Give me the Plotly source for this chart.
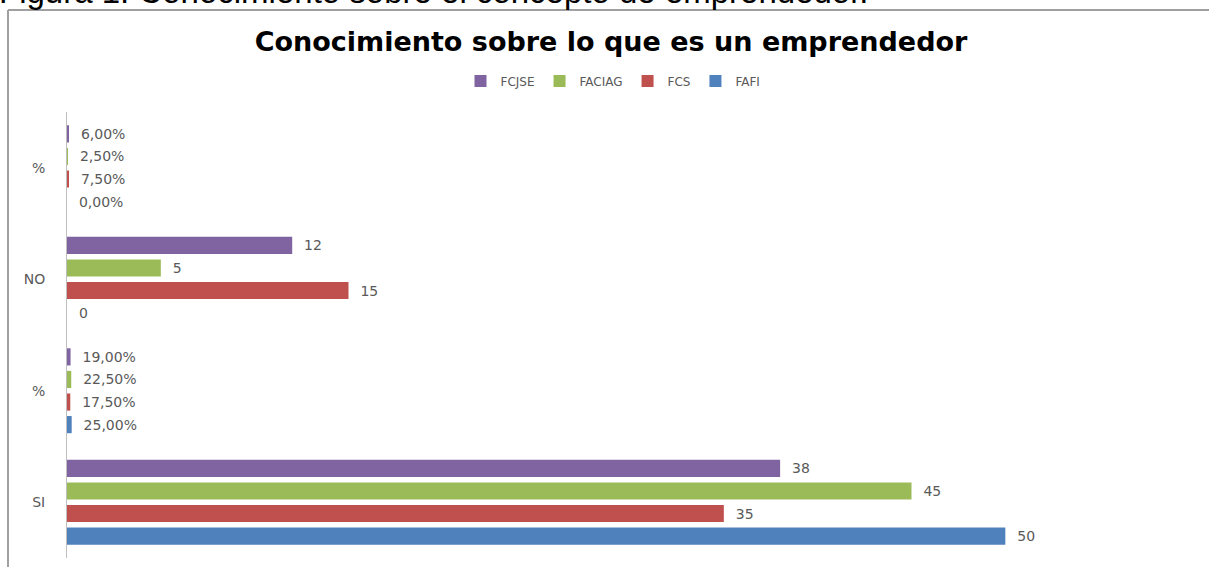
import plotly.graph_objects as go

# Category ids (bottom to top) and their displayed labels
categories = ["SI", "%_SI", "NO", "%_NO"]
category_labels = ["SI", "%", "NO", "%"]
percent_rows = {"%_SI", "%_NO"}

series_names = ["FAFI", "FCS", "FACIAG", "FCJSE"]
fafi = [50, 0.25, 0, 0.00]
fcs = [35, 0.175, 15, 0.075]
faciag = [45, 0.225, 5, 0.025]
fcjse = [38, 0.19, 12, 0.06]
colors = ["#4F81BD", "#C0504D", "#9BBB59", "#8064A2"]

title_text = "Conocimiento sobre lo que es un emprendedor"
caption_text = "Figura 1. Conocimiento sobre el concepto de emprendedor."

def fmt(cat, v):
    if cat in percent_rows:
        return f"{v*100:.2f}%".replace(".", ",")
    return f"{v:g}"

W, H = 1209, 567
L, R, T, B = 67, 16, 112, 9
PW, PH = W - L - R, H - T - B

def px(x):
    return (x - L) / PW

def py(y):
    return (H - B - y) / PH

fig = go.Figure()
for name, vals, col in zip(series_names, [fafi, fcs, faciag, fcjse], colors):
    fig.add_trace(go.Bar(
        name=name, y=categories, x=vals, orientation="h",
        marker=dict(color=col, line=dict(width=0)),
        text=["\u00a0\u00a0" + fmt(c, v) for c, v in zip(categories, vals)],
        textposition="outside", cliponaxis=False,
        textfont=dict(family="DejaVu Sans", size=14, color="#595959"),
        hoverinfo="skip",
    ))

fig.update_layout(
    width=W, height=H,
    margin=dict(l=L, r=R, t=T, b=B),
    paper_bgcolor="white", plot_bgcolor="white",
    barmode="group", bargap=0.19, bargroupgap=0.24,
    showlegend=True,
    title=dict(text="<b>" + title_text + "</b>",
               x=611 / W, xref="container", xanchor="center",
               y=1 - 42 / H, yref="container", yanchor="middle",
               font=dict(family="DejaVu Sans", size=27, color="#000000")),
    legend=dict(orientation="h", traceorder="reversed",
                x=px(613), xanchor="center", y=py(81), yanchor="middle",
                font=dict(family="DejaVu Sans", size=12, color="#595959"),
                itemwidth=30),
    xaxis=dict(range=[0, 60], showgrid=False, zeroline=False,
               showticklabels=False, showline=False, fixedrange=True),
    yaxis=dict(categoryorder="array", categoryarray=categories,
               tickvals=categories, ticktext=category_labels,
               showgrid=False, zeroline=False,
               showline=True, linecolor="#BFBFBF", linewidth=1,
               ticks="", ticklabelstandoff=18,
               tickfont=dict(family="DejaVu Sans", size=14, color="#595959")),
    annotations=[dict(text=caption_text,
                      xref="paper", yref="paper",
                      x=px(-3), xanchor="left",
                      y=py(12), yanchor="bottom",
                      showarrow=False,
                      font=dict(family="Liberation Sans", size=33, color="#000000"))],
    shapes=[
        dict(type="line", xref="paper", yref="paper",
             x0=px(8), x1=px(W + 2), y0=py(10), y1=py(10),
             line=dict(color="#A0A0A0", width=2)),
        dict(type="line", xref="paper", yref="paper",
             x0=px(8), x1=px(8), y0=py(10), y1=py(H + 2),
             line=dict(color="#A0A0A0", width=2)),
    ],
)

fig.write_html("out.html",
               config={"displayModeBar": False},
               post_script="document.body.style.margin='0px';")
